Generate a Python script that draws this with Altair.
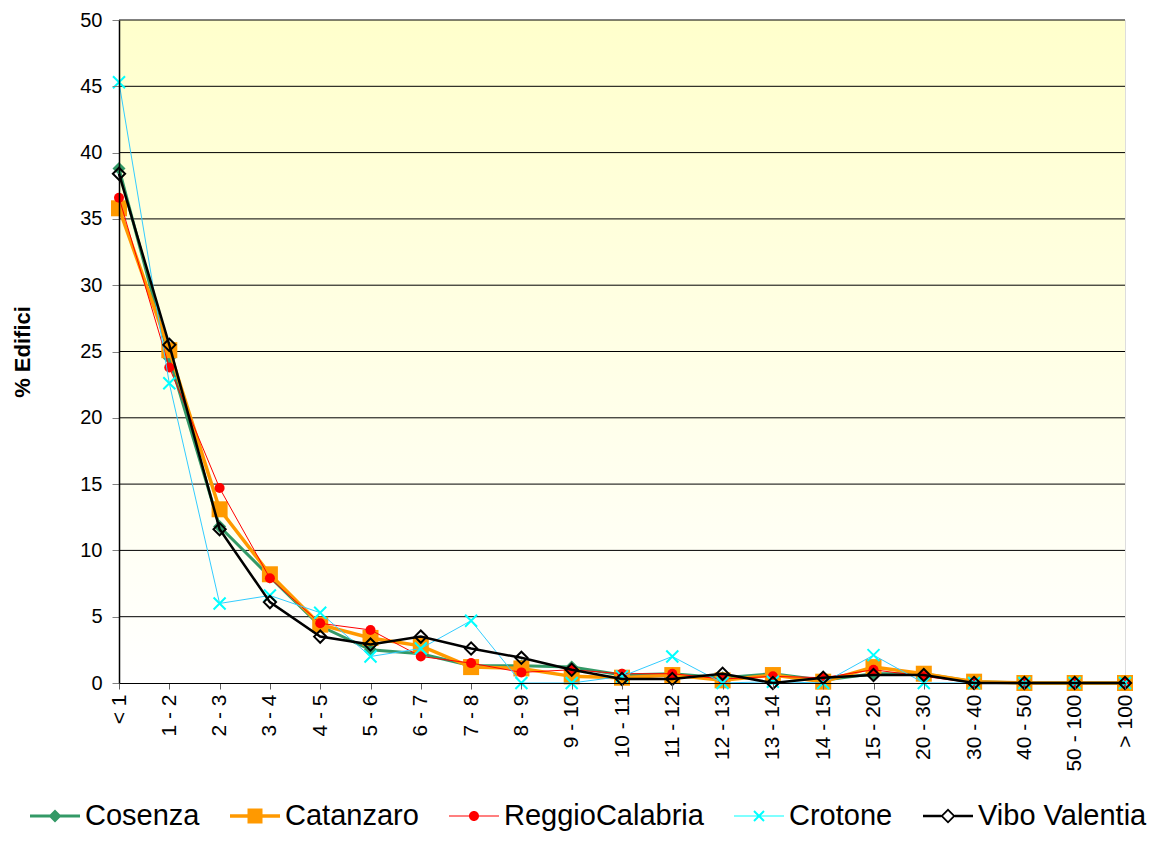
import altair as alt
import pandas as pd

categories = ["< 1", "1 - 2", "2 - 3", "3 - 4", "4 - 5", "5 - 6", "6 - 7", "7 - 8",
              "8 - 9", "9 - 10", "10 - 11", "11 - 12", "12 - 13", "13 - 14", "14 - 15",
              "15 - 20", "20 - 30", "30 - 40", "40 - 50", "50 - 100", "> 100"]
series_names = ["Cosenza", "Catanzaro", "ReggioCalabria", "Crotone", "Vibo Valentia"]

cosenza = [38.8, 24.5, 11.8, 8.0, 4.3, 2.5, 2.2, 1.3, 1.3, 1.2, 0.6, 0.7, 0.4, 0.7, 0.2, 0.7, 0.7, 0.1, 0.0, 0.0, 0.0]
catanzaro = [35.8, 25.1, 13.1, 8.2, 4.4, 3.4, 2.8, 1.2, 1.1, 0.5, 0.4, 0.6, 0.2, 0.6, 0.1, 1.2, 0.7, 0.1, 0.0, 0.0, 0.0]
reggio = [36.6, 23.8, 14.7, 7.9, 4.5, 4.0, 2.0, 1.5, 0.8, 1.0, 0.7, 0.7, 0.3, 0.5, 0.4, 1.0, 0.5, 0.0, 0.0, 0.0, 0.0]
crotone = [45.3, 22.6, 6.0, 6.6, 5.3, 2.0, 2.6, 4.7, 0.0, 0.0, 0.5, 2.0, 0.0, 0.1, 0.0, 2.1, 0.0, 0.0, 0.0, 0.0, 0.0]
vibo = [38.4, 25.5, 11.6, 6.1, 3.5, 2.9, 3.5, 2.6, 1.9, 1.0, 0.3, 0.3, 0.7, 0.0, 0.4, 0.6, 0.6, 0.0, 0.0, 0.0, 0.0]

y_ticks = [0, 5, 10, 15, 20, 25, 30, 35, 40, 45, 50]

series_values = {
    "Cosenza": cosenza,
    "Catanzaro": catanzaro,
    "ReggioCalabria": reggio,
    "Crotone": crotone,
    "Vibo Valentia": vibo,
}

rows = []
for s in series_names:
    for c, v in zip(categories, series_values[s]):
        rows.append({"cat": c, "val": v, "series": s})
df = pd.DataFrame(rows)

FONT = "Liberation Sans"
W, H = 1006, 663

X_PATH = "M-1,-1L1,1M1,-1L-1,1"
styles = {
    "Cosenza": dict(line="#339966", lw=3, shape="diamond", size=169, filled=True, mcolor="#339966", msw=0),
    "Catanzaro": dict(line="#FF9900", lw=3.5, shape="square", size=256, filled=True, mcolor="#FF9900", msw=0),
    "ReggioCalabria": dict(line="#FF0000", lw=1, shape="circle", size=100, filled=True, mcolor="#FF0000", msw=0),
    "Crotone": dict(line="#33CCFF", lw=1, shape=X_PATH, size=144, filled=False, mcolor="#00FFFF", msw=2),
    "Vibo Valentia": dict(line="#000000", lw=2.5, shape="diamond", size=150, filled=False, mcolor="#000000", msw=2),
}

legend_fills = ["#339966", "#FF9900", "#FF0000", "#00FFFF", "#000000"]
legend_paths = [
    "M-1,-0.06H1V0.06H-1Z M0,-0.26L0.26,0L0,0.26L-0.26,0Z",
    "M-1,-0.07H1V0.07H-1Z M-0.3,-0.3H0.3V0.3H-0.3Z",
    "M-1,-0.02H1V0.02H-1Z M-0.2,0A0.2,0.2 0 1,1 0.2,0A0.2,0.2 0 1,1 -0.2,0Z",
    "M-1,-0.02H1V0.02H-1Z M-0.172,-0.228L0.228,0.172L0.172,0.228L-0.228,-0.172Z M0.228,-0.172L-0.172,0.228L-0.228,0.172L0.172,-0.228Z",
    "M-1,-0.05H-0.27V0.05H-1Z M0.27,-0.05H1V0.05H0.27Z M0,-0.3L0.3,0L0,0.3L-0.3,0Z M0,-0.2L-0.2,0L0,0.2L0.2,0Z",
]

y_scale = alt.Scale(domain=[0, 50], nice=False, zero=True)

x_enc = alt.X(
    "cat:N",
    sort=categories,
    scale=alt.Scale(type="point", domain=categories, padding=0),
    axis=alt.Axis(title=None, labelAngle=-90, labelFontSize=21, labelFont=FONT, labelColor="black",
                  tickSize=6, tickColor="#606060", domainColor="black", labelPadding=5,
                  grid=False, labelOverlap=False, zindex=1),
)
y_enc = alt.Y(
    "val:Q",
    scale=y_scale,
    axis=alt.Axis(values=y_ticks, title="% Edifici", titleFontSize=22, titleFont=FONT,
                  titleFontWeight="bold", titleColor="black", titlePadding=45,
                  labelFontSize=20, labelFont=FONT, labelColor="black", labelPadding=10,
                  tickSize=7, tickColor="#808080", domainColor="black", domainWidth=1.5,
                  grid=False, zindex=1),
)

bg = alt.Gradient(gradient="linear", x1=0, x2=0, y1=0, y2=1,
                  stops=[alt.GradientStop(color="#FFFFCC", offset=0),
                         alt.GradientStop(color="#FFFFFF", offset=1)])

background = alt.Chart(pd.DataFrame({"a": [0]})).mark_rect(color=bg).encode(
    x=alt.value(0), x2=alt.value(W), y=alt.value(0), y2=alt.value(H)
)
grid = alt.Chart(pd.DataFrame({"val": y_ticks[1:]})).mark_rule(color="black", strokeWidth=1).encode(
    y=y_enc
)

base = alt.Chart(df)
layers = [background, grid]
for s in series_names:
    st = styles[s]
    line = base.mark_line(color=st["line"], strokeWidth=st["lw"]).encode(
        x=x_enc, y=y_enc
    ).transform_filter(alt.datum.series == s)
    if st["filled"]:
        pts = base.mark_point(shape=st["shape"], size=st["size"], filled=True,
                              color=st["mcolor"], opacity=1).encode(x=x_enc, y=y_enc)
    else:
        pts = base.mark_point(shape=st["shape"], size=st["size"], filled=False,
                              color=st["mcolor"], strokeWidth=st["msw"], opacity=1).encode(x=x_enc, y=y_enc)
    pts = pts.transform_filter(alt.datum.series == s)
    layers += [line, pts]

leg = alt.Legend(title=None, orient="none", legendX=-89, legendY=771, direction="horizontal",
                 columns=5, symbolSize=2500, symbolStrokeWidth=0, symbolOpacity=1,
                 labelFontSize=29, labelFont=FONT, labelColor="black", labelOffset=5,
                 columnPadding=30, labelLimit=400)
legend_layer = base.mark_point(filled=True, opacity=0).encode(
    x=x_enc, y=y_enc,
    color=alt.Color("series:N", scale=alt.Scale(domain=series_names, range=legend_fills), legend=leg),
    shape=alt.Shape("series:N", scale=alt.Scale(domain=series_names, range=legend_paths), legend=leg),
)
layers.append(legend_layer)

chart = alt.layer(*layers).properties(
    width=W, height=H,
    autosize=alt.AutoSizeParams(type="none"),
    padding={"left": 111, "top": 12, "right": 31, "bottom": 150},
).configure_view(
    stroke="#808080", strokeWidth=2
).configure(font=FONT, background="white")

chart.save("out.html", embed_options={"renderer": "svg", "actions": False})
